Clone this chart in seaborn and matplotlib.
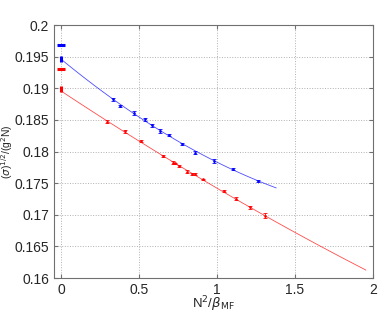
import numpy as np
import pandas as pd
import matplotlib
matplotlib.use('Agg')
import matplotlib.pyplot as plt
import seaborn as sns

# DATA
blue_x = [0.336, 0.381, 0.471, 0.540, 0.583, 0.633, 0.695, 0.778, 0.862, 0.979, 1.104, 1.265]
blue_y = [0.18825, 0.18720, 0.18604, 0.18509, 0.18414, 0.18319, 0.18261, 0.18119,
          0.17984, 0.17850, 0.17723, 0.17534]
blue_err = [0.0002, 0.0002, 0.0003, 0.0002, 0.0002, 0.0003, 0.0002, 0.0001,
            0.0002, 0.0003, 0.0002, 0.0002]

red_x = [0.295, 0.408, 0.513, 0.654, 0.718, 0.733, 0.759, 0.806, 0.840, 0.857,
         0.909, 1.042, 1.119, 1.209, 1.307]
red_y = [0.18471, 0.18319, 0.18166, 0.17929, 0.17823, 0.17813, 0.17771, 0.17681,
         0.17641, 0.17641, 0.17562, 0.17372, 0.17254, 0.17115, 0.16985]
red_err = [0.0002, 0.0002, 0.0001, 0.0001, 0.0002, 0.0001, 0.0001, 0.0002,
           0.0002, 0.0002, 0.0001, 0.0002, 0.0002, 0.0003, 0.0004]

# continuum values at N^2/beta = 0
blue_cont = 0.19462
blue_cont_err = 0.0005
red_cont = 0.18988
red_cont_err = 0.0005
# reference values (horizontal dashes)
blue_ref = 0.1968
red_ref = 0.1931

# range of fitted curves
blue_fit_end = 1.38
red_fit_end = 1.955

sns.set_style('ticks')
plt.rcParams['font.family'] = ['Liberation Sans', 'DejaVu Sans']

fig = plt.figure(figsize=(3.82, 3.13), dpi=100)
ax = fig.add_axes([0.1414, 0.1118, 0.8350, 0.8083])

for xs, ys, errs, end, col in [(blue_x, blue_y, blue_err, blue_fit_end, 'b'),
                               (red_x, red_y, red_err, red_fit_end, 'r')]:
    coef = np.polyfit(xs, ys, 2)
    fx = np.linspace(0, end, 100)
    fit = pd.DataFrame({'x': fx, 'y': np.polyval(coef, fx)})
    sns.lineplot(data=fit, x='x', y='y', color=col, lw=0.6, alpha=0.7, ax=ax)
    ax.errorbar(xs, ys, yerr=errs, fmt='.', color=col, ms=2, elinewidth=0.7,
                capsize=1.3, capthick=0.7, alpha=0.85)

ax.errorbar([0], [blue_cont], yerr=[blue_cont_err], fmt='none', ecolor='b', elinewidth=2.2)
ax.errorbar([0], [red_cont], yerr=[red_cont_err], fmt='none', ecolor='r', elinewidth=2.2)
ax.plot([0], [blue_ref], marker='_', color='b', ms=5.5, mew=2.2)
ax.plot([0], [red_ref], marker='_', color='r', ms=5.5, mew=2.2)

ax.set_xlim(-0.045, 2)
ax.set_ylim(0.16, 0.2)
ax.set_xticks([0, 0.5, 1, 1.5, 2])
ax.set_xticklabels(['0', '0.5', '1', '1.5', '2'])
ax.set_yticks([0.16, 0.165, 0.17, 0.175, 0.18, 0.185, 0.19, 0.195, 0.2])
ax.set_yticklabels(['0.16', '0.165', '0.17', '0.175', '0.18', '0.185', '0.19', '0.195', '0.2'])
ax.grid(True, linestyle=':', color='#b0b0b0', lw=0.7)
for s in ax.spines.values():
    s.set_color('#707070')
    s.set_linewidth(0.8)
ax.tick_params(direction='in', length=3, color='#707070', labelsize=10)
ax.tick_params(top=True, right=True, labeltop=False, labelright=False)

ax.set_xlabel(r'N$^2$/$\beta_{\mathrm{MF}}$', fontsize=9.5, labelpad=-1.5)
ax.set_ylabel(r'($\sigma$)$^{1/2}$/(g$^2$N)', fontsize=7.5, labelpad=0)

fig.savefig('out.png', dpi=100)
